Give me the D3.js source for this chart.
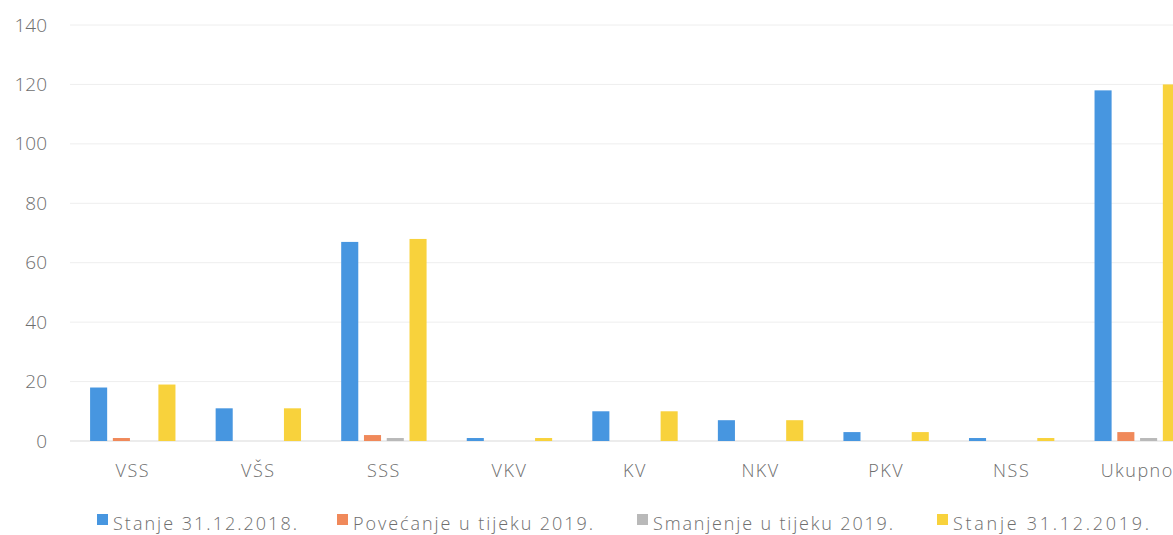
<!DOCTYPE html>
<html>
<head>
<meta charset="utf-8">
<script src="https://cdn.jsdelivr.net/npm/d3@7"></script>
<style>
  body { margin: 0; background: #fff; overflow: hidden; }
  text { font-family: "Open Sans", "Noto Sans", sans-serif; fill: #6e6e6e; }
</style>
</head>
<body>
<script>
const WIDTH = 1173;
const HEIGHT = 535;

// kategorije i serije
const kategorije = ["VSS", "VŠS", "SSS", "VKV", "KV", "NKV", "PKV", "NSS", "Ukupno"];
const serije = ["Stanje 31.12.2018.", "Povećanje u tijeku 2019.", "Smanjenje u tijeku 2019.", "Stanje 31.12.2019."];
const stanje2018 = [18, 11, 67, 1, 10, 7, 3, 1, 118];
const povecanje2019 = [1, 0, 2, 0, 0, 0, 0, 0, 3];
const smanjenje2019 = [0, 0, 1, 0, 0, 0, 0, 0, 1];
const stanje2019 = [19, 11, 68, 1, 10, 7, 3, 1, 120];
const yTicks = [0, 20, 40, 60, 80, 100, 120, 140];

const boje = ["#4796e0", "#f0895a", "#b9b9b9", "#f8d23c"];
const vrijednosti = [stanje2018, povecanje2019, smanjenje2019, stanje2019];

const svg = d3.select("body")
  .append("svg")
  .attr("width", WIDTH)
  .attr("height", HEIGHT);

const lijevo = 70, desno = 1200, vrh = 25, dno = 441;

const x = d3.scaleBand()
  .domain(kategorije)
  .range([lijevo, desno])
  .paddingInner(0.32)
  .paddingOuter(0.16);

const xs = d3.scaleBand()
  .domain(serije)
  .range([0, x.bandwidth()])
  .paddingInner(0.25);

const y = d3.scaleLinear()
  .domain([0, 140])
  .range([dno, vrh]);

// mreža
svg.append("g")
  .selectAll("line")
  .data(yTicks)
  .join("line")
  .attr("x1", lijevo)
  .attr("x2", desno)
  .attr("y1", d => y(d))
  .attr("y2", d => y(d))
  .attr("stroke", d => d === 0 ? "#d9d9d9" : "#eeeeee")
  .attr("stroke-width", 1);

// os y
const yAxis = svg.append("g")
  .attr("transform", `translate(${lijevo - 23},0)`)
  .call(d3.axisLeft(y).tickValues(yTicks).tickSize(0).tickPadding(0));
yAxis.select(".domain").remove();
yAxis.selectAll("text")
  .style("font-size", "19px")
  .style("font-weight", "300")
  .attr("fill", "#6e6e6e");

// stupci
const grupe = svg.append("g")
  .selectAll("g")
  .data(kategorije)
  .join("g")
  .attr("transform", d => `translate(${x(d)},0)`);

grupe.selectAll("rect")
  .data((k, i) => serije.map((s, j) => ({ s, j, v: vrijednosti[j][i] })))
  .join("rect")
  .attr("x", d => xs(d.s))
  .attr("width", xs.bandwidth())
  .attr("y", d => y(d.v))
  .attr("height", d => dno - y(d.v))
  .attr("fill", d => boje[d.j]);

// os x
const xAxis = svg.append("g")
  .attr("transform", `translate(0,${dno})`)
  .call(d3.axisBottom(x).tickSize(0).tickPadding(23));
xAxis.select(".domain").remove();
xAxis.selectAll("text")
  .style("font-size", "18px")
  .style("font-weight", "300")
  .style("letter-spacing", "1.5px")
  .attr("fill", "#6e6e6e");

// legenda
const legendaX = [97, 337, 637, 937];
const legendaW = [184, 240, 240, 196];
const legenda = svg.append("g")
  .selectAll("g")
  .data(serije)
  .join("g")
  .attr("transform", (d, i) => `translate(${legendaX[i]},524)`);

legenda.append("rect")
  .attr("x", 0)
  .attr("y", -10)
  .attr("width", 11)
  .attr("height", 11)
  .attr("fill", (d, i) => boje[i]);

legenda.append("text")
  .attr("x", 16)
  .attr("y", 0)
  .attr("dy", "0.35em")
  .attr("textLength", (d, i) => legendaW[i])
  .attr("lengthAdjust", "spacing")
  .style("font-size", "18px")
  .style("font-weight", "300")
  .text(d => d);
</script>
</body>
</html>
